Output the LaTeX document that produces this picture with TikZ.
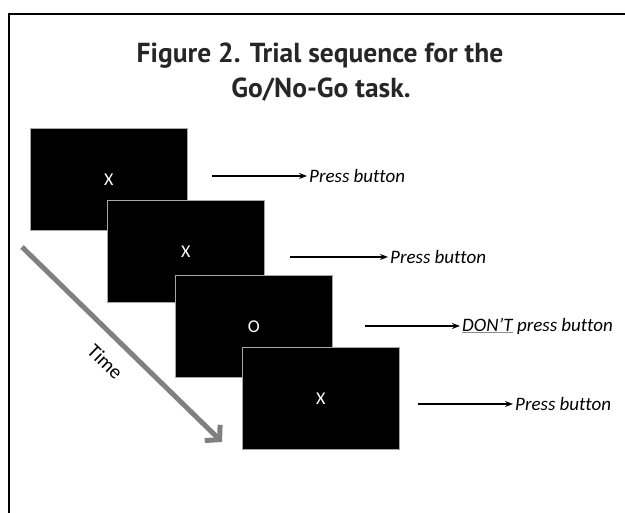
\documentclass[tikz,border=0pt]{standalone}
\usepackage{fontspec}
\setmainfont{Carlito}[Ligatures=NoCommon]
\newfontfamily\headfont{PT Sans}
\usetikzlibrary{arrows.meta}
\newcommand\dontword{{\color{black!45}\underline{\color{black}DON’T}}}
\tikzset{scr/.style={anchor=north west,fill=black,draw=black!35,line width=.8pt,minimum width=157pt,minimum height=102pt,inner sep=0pt,text=white,font=\fontsize{18}{18}\selectfont},
  resp/.style={anchor=west,inner sep=2pt,font=\fontsize{19}{19}\selectfont\itshape},
  go/.style={-{Stealth[length=8pt,width=6pt]},line width=1.2pt},
  hd/.style={anchor=base,inner sep=0pt,text=black!85,font=\headfont\bfseries\fontsize{27.5}{27.5}\selectfont}}

\begin{document}
\begin{tikzpicture}[x=1pt,y=1pt]
  \useasboundingbox (0,0) rectangle (625,513);
  \draw[line width=2pt] (9,0) -- (9,499) -- (625,499);
  \node[hd] (ttl1) at (320,450) {Figure 2. Trial sequence for the};
  \node[hd] (ttl2) at (321,415) {Go/No-Go task.};
  % the four screens, each one drawn over the last
  \node[scr] (s1) at (30,385) {X};
  \node[scr] (s2) at (107,313) {X};
  \node[scr] (s3) at (175,238) {O};
  \node[scr] (s4) at (242,166) {X};
  % responses
  \coordinate (a1) at (212,337);
  \node[resp] (r1) at (307,337) {Press button};
  \coordinate (a2) at (290,256);
  \node[resp] (r2) at (388,256) {Press button};
  \coordinate (a3) at (365,187);
  \node[resp] (r3) at (460,187) {\dontword{} press button};
  \coordinate (a4) at (418,109);
  \node[resp] (r4) at (513,109) {Press button};
  \draw[go] (a1) -- (r1);
  \draw[go] (a2) -- (r2);
  \draw[go] (a3) -- (r3);
  \draw[go] (a4) -- (r4);
  % time axis
  \coordinate (ts) at (22,266);
  \coordinate (te) at (222,71);
  \draw[line width=5pt,black!50,-{Straight Barb[length=10pt,width=22pt]}] (ts) -- (te)
    node[midway,sloped,below=11pt,text=black,font=\fontsize{20}{20}\selectfont] (tl) {Time};
\end{tikzpicture}
\end{document}
